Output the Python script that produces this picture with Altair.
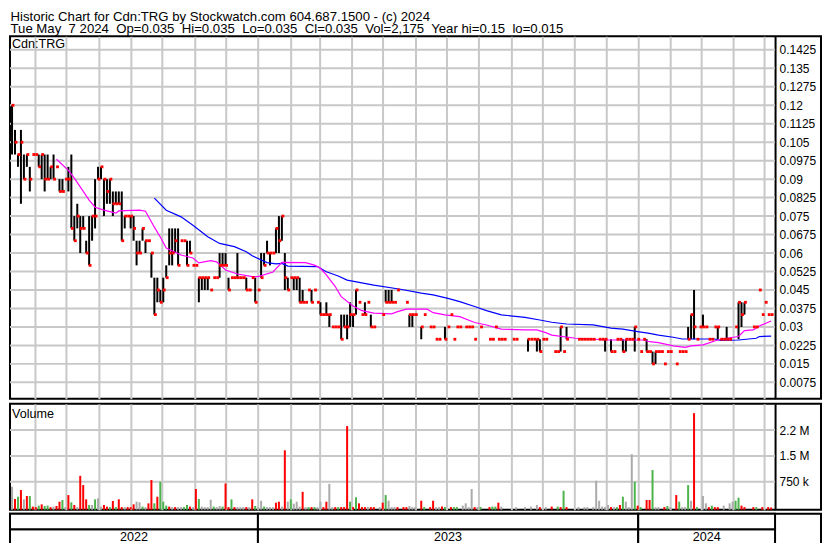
import altair as alt
import pandas as pd

# ---------------- data (prices in 0.005 ticks, 0 = no trade) ----------------
TICK = 0.005
first_bar = "2022-05-10T00:00:00"
last_bar = "2024-05-07T14:00:00"

close_t = [
    24, 21, 20, 21, 18, 20, 18, 20, 20, 19,
    20, 18, 18, 19, 18, 19, 17, 17, 18, 18,
    14, 13, 15, 14, 14, 12, 11, 15, 15, 18,
    19, 18, 17, 18, 16, 16, 16, 13, 15, 15,
    15, 14, 12, 12, 14, 13, 13, 12, 7, 9,
    8, 9, 10, 12, 12, 13, 11, 13, 13, 11,
    12, 11, 11, 10, 10, 10, 10, 9, 10, 10,
    11, 11, 11, 9, 10, 10, 10, 10, 10, 9,
    9, 10, 8, 9, 10, 11, 12, 12, 12, 14,
    13, 15, 10, 9, 10, 10, 10, 8, 8, 8,
    9, 8, 9, 8, 7, 7, 7, 7, 6, 6,
    6, 5, 6, 6, 7, 7, 9, 8, 7, 7,
    8, 6, 6, 0, 0, 7, 8, 8, 8, 8,
    9, 0, 0, 8, 7, 7, 7, 0, 6, 7,
    0, 6, 6, 5, 5, 0, 5, 6, 7, 5,
    6, 6, 0, 6, 6, 6, 5, 0, 6, 0,
    0, 5, 5, 6, 5, 5, 5, 0, 0, 5,
    5, 0, 0, 0, 5, 5, 5, 5, 4, 5,
    5, 0, 0, 4, 4, 6, 4, 5, 0, 0,
    0, 5, 5, 5, 5, 5, 5, 0, 5, 5,
    5, 0, 4, 4, 5, 5, 4, 5, 5, 5,
    6, 5, 4, 5, 4, 4, 3, 4, 4, 4,
    3, 4, 4, 0, 3, 4, 4, 4, 5, 7,
    6, 5, 6, 6, 6, 5, 5, 6, 6, 5,
    5, 5, 5, 0, 6, 8, 7, 8, 0, 0,
    6, 6, 9, 7, 8, 7, 7]

high_t = [
    24, 22, 20, 22, 20, 20, 19, 20, 20, 20,
    20, 20, 20, 19, 20, 19, 18, 18, 18, 19,
    20, 15, 16, 15, 15, 13, 15, 15, 18, 19,
    19, 18, 18, 18, 17, 17, 17, 17, 15, 15,
    15, 15, 13, 13, 14, 13, 13, 12, 10, 10,
    9, 10, 11, 14, 14, 14, 14, 13, 13, 13,
    13, 11, 11, 10, 10, 10, 10, 9, 10, 10,
    12, 12, 12, 10, 10, 10, 12, 10, 10, 10,
    9, 10, 10, 9, 12, 12, 13, 12, 12, 14,
    15, 15, 12, 10, 10, 10, 10, 10, 9, 8,
    9, 9, 9, 8, 8, 7, 8, 7, 6, 6,
    6, 7, 7, 7, 8, 7, 9, 8, 7, 8,
    8, 7, 6, 0, 0, 7, 9, 9, 9, 8,
    9, 0, 0, 8, 7, 7, 7, 0, 6, 7,
    0, 6, 6, 5, 5, 0, 6, 6, 7, 5,
    6, 6, 0, 6, 6, 6, 5, 0, 6, 0,
    0, 5, 5, 6, 5, 5, 5, 0, 0, 5,
    5, 0, 0, 0, 5, 5, 5, 5, 5, 5,
    5, 0, 0, 4, 4, 6, 4, 6, 0, 0,
    0, 5, 5, 5, 5, 5, 5, 0, 5, 5,
    5, 0, 5, 4, 5, 5, 5, 5, 5, 5,
    6, 5, 4, 5, 5, 4, 4, 4, 4, 4,
    3, 4, 4, 0, 3, 4, 4, 4, 6, 7,
    9, 5, 6, 7, 6, 5, 5, 6, 6, 5,
    5, 6, 5, 0, 6, 8, 8, 8, 0, 0,
    6, 6, 9, 7, 8, 7, 7]

low_t = [
    20, 20, 19, 16, 18, 19, 17, 20, 20, 19,
    18, 17, 18, 18, 18, 19, 17, 17, 18, 17,
    14, 13, 14, 12, 14, 12, 11, 13, 14, 18,
    18, 15, 16, 16, 15, 16, 16, 13, 14, 15,
    14, 13, 11, 12, 13, 12, 13, 10, 7, 8,
    8, 8, 10, 11, 11, 12, 11, 13, 13, 11,
    12, 11, 11, 8, 9, 9, 9, 9, 10, 10,
    10, 11, 11, 9, 10, 10, 10, 10, 10, 9,
    9, 10, 8, 9, 10, 11, 12, 11, 12, 12,
    12, 13, 9, 9, 10, 9, 9, 8, 8, 8,
    9, 8, 9, 8, 7, 7, 7, 6, 6, 6,
    6, 5, 6, 5, 6, 6, 7, 8, 7, 7,
    8, 6, 6, 0, 0, 7, 8, 8, 8, 8,
    9, 0, 0, 8, 6, 6, 7, 0, 5, 7,
    0, 6, 6, 5, 5, 0, 5, 6, 7, 5,
    6, 6, 0, 6, 6, 6, 5, 0, 6, 0,
    0, 5, 5, 6, 5, 5, 5, 0, 0, 5,
    5, 0, 0, 0, 4, 5, 5, 4, 4, 5,
    5, 0, 0, 4, 4, 4, 4, 5, 0, 0,
    0, 5, 5, 5, 5, 5, 5, 0, 5, 5,
    4, 0, 4, 4, 5, 5, 4, 4, 5, 5,
    4, 5, 4, 5, 4, 4, 3, 3, 4, 4,
    3, 4, 4, 0, 3, 4, 4, 4, 5, 5,
    5, 5, 6, 6, 6, 5, 5, 6, 5, 5,
    5, 5, 5, 0, 6, 5, 6, 7, 0, 0,
    6, 6, 9, 7, 8, 7, 7]

# volume in thousands of shares
vol_k = [
    605, 250, 317, 510, 240, 336, 336, 30, 15, 58,
    96, 48, 58, 15, 30, 48, 173, 221, 15, 365,
    154, 77, 15, 923, 654, 240, 77, 77, 240, 270,
    30, 77, 30, 15, 192, 15, 240, 15, 15, 15,
    15, 96, 173, 154, 30, 15, 125, 800, 125, 317,
    750, 173, 58, 30, 15, 15, 15, 15, 15, 77,
    30, 15, 540, 250, 30, 15, 15, 230, 30, 15,
    48, 30, 700, 15, 240, 15, 15, 15, 15, 15,
    15, 240, 48, 15, 200, 30, 15, 15, 15, 144,
    173, 30, 1663, 173, 240, 115, 173, 30, 460, 15,
    15, 15, 15, 15, 173, 15, 173, 690, 15, 15,
    15, 15, 15, 2365, 173, 15, 300, 125, 15, 15,
    15, 15, 15, 0, 15, 144, 365, 200, 15, 15,
    15, 0, 15, 15, 48, 15, 15, 0, 200, 15,
    0, 15, 200, 15, 15, 30, 15, 0, 15, 15,
    15, 0, 58, 125, 15, 540, 15, 15, 15, 0,
    0, 15, 30, 30, 144, 30, 0, 0, 0, 0,
    15, 0, 0, 15, 0, 30, 0, 77, 15, 0,
    15, 0, 30, 0, 30, 15, 490, 15, 0, 0,
    0, 15, 0, 15, 15, 0, 15, 780, 200, 30,
    15, 77, 15, 15, 15, 77, 317, 173, 15, 1550,
    750, 58, 15, 0, 221, 221, 1090, 15, 15, 0,
    15, 48, 15, 0, 365, 173, 15, 15, 654, 200,
    2740, 15, 0, 336, 125, 15, 58, 15, 15, 0,
    58, 0, 125, 173, 200, 288, 58, 15, 0, 0,
    15, 15, 0, 15, 0, 15, 5]

# r = down day, g = up day, k = unchanged, . = no volume
vol_dir = ("krgrkrgrrg" "rggrkrrgkr" "grkrrrgkgk" "krrgrgrrkr" "rrkkgkrrgr"
           "gggrkrkkgg" "rkrgkkkkgk" "kgrrgrkkkr" "krgkkgkkkr" "rkrkgkkkrk"
           "grgkkrrkkr" "grrrgrgrrr" "krr.krgkkk" "r.rrkkk.rg" ".rrkkrg.rg"
           "g.kkkkrkg." ".rggrk...." "k..k.k.kr." "k.r.grgr.." ".k.kk.kkkk"
           "kkrkgrgkkk" "grg.rrgkk." "rgk.rgkkgk" "rg.kkrgrr." "k.kkggrr.."
           "rg.r.rr")

# moving averages (position in bar slots, value)
ma_fast_pos = [15, 19, 21, 26, 28, 31, 35, 36, 43, 45, 48, 50, 52, 57, 61, 63, 67, 69, 72, 76,
               81, 83, 88, 91, 99, 102, 104, 106, 109, 111, 115, 118, 122, 128, 130, 133, 140, 142, 146, 151,
               156, 160, 165, 173, 177, 180, 182, 190, 201, 208, 213, 215, 218, 223, 227, 229, 233, 238, 241, 245,
               247, 250, 252, 256]
ma_fast_val = [0.0981, 0.0936, 0.0904, 0.0815, 0.0786, 0.0774, 0.0762, 0.0771, 0.0774, 0.077,
               0.0705, 0.0665, 0.062, 0.0592, 0.058, 0.056, 0.0569, 0.0564, 0.0531, 0.0515,
               0.0504, 0.0504, 0.0523, 0.0562, 0.0561, 0.0551, 0.0538, 0.0511, 0.0464, 0.0423,
               0.0385, 0.0366, 0.0356, 0.0353, 0.0362, 0.0372, 0.0372, 0.0358, 0.0349, 0.0342,
               0.0318, 0.0308, 0.0291, 0.0288, 0.0288, 0.0277, 0.0267, 0.0254, 0.0247, 0.0247,
               0.0247, 0.024, 0.0236, 0.0223, 0.0217, 0.0223, 0.0227, 0.0247, 0.0254, 0.0261,
               0.0285, 0.0288, 0.0304, 0.0324]
ma_slow_pos = [48, 52, 57, 61, 66, 70, 75, 79, 81, 86, 89, 91, 93, 103, 106, 110, 113, 122, 131, 138,
               142, 147, 151, 156, 160, 165, 173, 178, 182, 187, 196, 202, 206, 211, 215, 218, 223, 226, 237, 239,
               245, 251, 252, 256]
ma_slow_val = [0.0823, 0.0774, 0.0747, 0.0713, 0.0666, 0.0639, 0.0626, 0.0605, 0.0589, 0.0561,
               0.0556, 0.0558, 0.0547, 0.0545, 0.0524, 0.0507, 0.049, 0.047, 0.0453, 0.0437,
               0.043, 0.0416, 0.0403, 0.0383, 0.0366, 0.0349, 0.0339, 0.0328, 0.0319, 0.0312,
               0.0308, 0.0295, 0.0291, 0.0281, 0.0274, 0.0267, 0.0258, 0.0251, 0.0251, 0.0245,
               0.0247, 0.0254, 0.0261, 0.0263]

price_ticks = [0.0075, 0.015, 0.0225, 0.03, 0.0375, 0.045, 0.0525, 0.06, 0.0675, 0.075,
               0.0825, 0.09, 0.0975, 0.105, 0.1125, 0.12, 0.1275, 0.135, 0.1425]
vol_ticks = [750000, 1500000, 2250000]
vol_tick_labels = ["750 k", "1.5 M", "2.2 M"]

years = ["2022", "2023", "2024"]
year_start = ["2022-05-08T01:00:00", "2023-01-01T00:00:00", "2024-01-01T00:00:00"]
year_end = ["2023-01-01T00:00:00", "2024-01-01T00:00:00", "2024-05-11T08:00:00"]

title_lines = [
    "Historic Chart for Cdn:TRG by Stockwatch.com 604.687.1500 - (c) 2024",
    "Tue May\u00a0 7 2024\u00a0 Op=0.035\u00a0 Hi=0.035\u00a0 Lo=0.035\u00a0 Cl=0.035\u00a0 "
    "Vol=2,175\u00a0 Year hi=0.15\u00a0 lo=0.015",
]

# ---------------- layout constants ----------------
DOM_START = "2022-05-08T01:00:00"
DOM_END = "2024-06-24T10:24:00"
PANEL_END = year_end[-1]
W = 812
H_HEAD = 26
H_PRICE = 363
H_VOL = 106
H_BAND = 31
AX_OFF = -46
HEAD_FS = 13.2
VOL_FLOOR = -60000     # volume panel floor: bars are drawn from the panel's bottom edge
VOL_TOP = 3010000
FONT = "Liberation Sans"
GRID = "#c8c8c8"
RED = "#ff0000"
GREEN = "#4db34d"
GREYV = "#aaaaaa"

# ---------------- frames ----------------
n = len(close_t)
t0 = pd.Timestamp(first_bar)
t1 = pd.Timestamp(last_bar)
step = (t1 - t0) / (n - 1)


def at(pos):
    return (t0 + step * pos).strftime("%Y-%m-%dT%H:%M:%S")


bars = pd.DataFrame({
    "date": [at(i) for i in range(n)],
    "close": [c * TICK for c in close_t],
    "high": [h * TICK for h in high_t],
    "low": [lo * TICK for lo in low_t],
    "vol": [v * 1000 for v in vol_k],
    "dir": list(vol_dir),
})
closes = bars[bars["close"] > 0]
ranges = bars[bars["high"] > bars["low"]]
vols = bars[(bars["vol"] > 0) & (bars["dir"] != ".")]

ma_fast = pd.DataFrame({"date": [at(p) for p in ma_fast_pos], "v": ma_fast_val})
ma_slow = pd.DataFrame({"date": [at(p) for p in ma_slow_pos], "v": ma_slow_val})

pgrid = pd.DataFrame({"v": price_ticks, "x0": DOM_START, "x1": PANEL_END})
vgrid = pd.DataFrame({"v": vol_ticks, "x0": DOM_START, "x1": PANEL_END})


def dt(s):
    t = pd.Timestamp(s)
    return alt.DateTime(year=t.year, month=t.month, date=t.day, hours=t.hour, minutes=t.minute)


month_ticks = [dt(d) for d in pd.date_range("2022-06-01", "2024-05-01", freq="MS")]
x_scale = alt.Scale(domain=[dt(DOM_START), dt(DOM_END)], nice=False, padding=0)
x_axis = alt.Axis(values=month_ticks, grid=True, gridColor=GRID, gridWidth=2, labels=False,
                  ticks=False, domain=False, title=None)


def X(field):
    return alt.X(field, type="temporal", scale=x_scale, axis=x_axis, title=None)


price_scale = alt.Scale(domain=[0.0008, 0.148], nice=False, zero=False)
axis_common = dict(orient="right", offset=AX_OFF, grid=False, ticks=False, domain=True,
                   domainColor="black", domainWidth=2, labelPadding=4, labelFontSize=12,
                   labelColor="black", labelFont=FONT, title=None, labelFlush=False,
                   labelOverlap=False, labelAlign="left", labelBaseline="middle")
price_axis = alt.Axis(values=price_ticks, format=".4~f", **axis_common)


def YP(field):
    return alt.Y(field, type="quantitative", scale=price_scale, axis=price_axis, title=None)


vol_scale = alt.Scale(domain=[VOL_FLOOR, VOL_TOP], nice=False, zero=False)
label_expr = " : ".join(
    f"datum.value == {v} ? '{lab}'" for v, lab in zip(vol_ticks[:-1], vol_tick_labels[:-1])
) + f" : '{vol_tick_labels[-1]}'"
vol_axis = alt.Axis(values=vol_ticks, labelExpr=label_expr, **axis_common)


def YV(field):
    return alt.Y(field, type="quantitative", scale=vol_scale, axis=vol_axis, title=None)


# ---------------- header ----------------
def head_line(txt, ypos):
    return alt.Chart(pd.DataFrame({"t": [txt]})).mark_text(
        align="left", baseline="alphabetic", fontSize=HEAD_FS, font=FONT, color="black"
    ).encode(text="t:N", x=alt.value(0.5), y=alt.value(ypos))


header = alt.layer(
    head_line(title_lines[0], 12.2),
    head_line(title_lines[1], 24.4),
).properties(width=W, height=H_HEAD, view=alt.ViewBackground(stroke=None))

# ---------------- price panel ----------------
p_grid = alt.Chart(pgrid).mark_rule(color=GRID, strokeWidth=2).encode(x=X("x0"), x2="x1", y=YP("v"))
p_rng = alt.Chart(ranges).mark_rule(color="black", strokeWidth=2).encode(x=X("date"), y=YP("low"), y2="high")
p_slow = alt.Chart(ma_slow).mark_line(color="#0000ff", strokeWidth=1.2).encode(x=X("date"), y=YP("v"))
p_fast = alt.Chart(ma_fast).mark_line(color="#ff00ff", strokeWidth=1.2).encode(x=X("date"), y=YP("v"))
p_close = alt.Chart(closes).mark_square(color=RED, size=8, opacity=1, xOffset=1).encode(x=X("date"), y=YP("close"))
p_lab = alt.Chart(pd.DataFrame({"t": ["Cdn:TRG"]})).mark_text(
    align="left", baseline="middle", fontSize=12.6, font=FONT, color="black"
).encode(text="t:N", x=alt.value(2), y=alt.value(8))

price = alt.layer(p_grid, p_rng, p_slow, p_fast, p_close, p_lab).properties(width=W, height=H_PRICE)

# ---------------- volume panel ----------------
v_grid = alt.Chart(vgrid).mark_rule(color=GRID, strokeWidth=2).encode(x=X("x0"), x2="x1", y=YV("v"))
v_bars = alt.Chart(vols).mark_bar(size=2).encode(
    x=X("date"), y=YV("vol"), y2=alt.datum(VOL_FLOOR),
    color=alt.Color("dir:N", scale=alt.Scale(domain=["r", "g", "k"], range=[RED, GREEN, GREYV]), legend=None),
)
v_lab = alt.Chart(pd.DataFrame({"t": ["Volume"]})).mark_text(
    align="left", baseline="middle", fontSize=12.6, font=FONT, color="black"
).encode(text="t:N", x=alt.value(2), y=alt.value(10.5))
volume = alt.layer(v_grid, v_bars, v_lab).properties(width=W, height=H_VOL)

# ---------------- year band ----------------
band_rows = []
for y, s, e in zip(years, year_start, year_end):
    for r in (0, 1):
        band_rows.append({"year": y, "start": s, "end": e, "r0": r, "r1": r + 1})
band_df = pd.DataFrame(band_rows)
lab_df = pd.DataFrame({
    "year": years,
    "mid": [(pd.Timestamp(s) + (pd.Timestamp(e) - pd.Timestamp(s)) / 2).strftime("%Y-%m-%dT%H:%M:%S")
            for s, e in zip(year_start, year_end)],
    "ym": [0.5] * len(years),
})


def bx(f):
    return alt.X(f, type="temporal", scale=x_scale, axis=None, title=None)


by_scale = alt.Scale(domain=[0, 2], nice=False, zero=False)
b_rect = alt.Chart(band_df).mark_rect(fill="white", stroke="black", strokeWidth=2).encode(
    x=bx("start"), x2="end", y=alt.Y("r0:Q", scale=by_scale, axis=None), y2="r1")
b_text = alt.Chart(lab_df).mark_text(fontSize=12.6, font=FONT, color="black", baseline="middle").encode(
    x=bx("mid"), y=alt.Y("ym:Q", scale=by_scale, axis=None), text="year:N")
band = alt.layer(b_rect, b_text).properties(width=W, height=H_BAND)

chart = alt.vconcat(
    header,
    alt.vconcat(alt.vconcat(price, volume, spacing=3), band, spacing=1),
    spacing=0,
).properties(
    padding={"left": 0, "top": 0, "right": 0, "bottom": 0},
).configure(background="white", font=FONT).configure_view(stroke="black", strokeWidth=2)

chart.save("out.html", embed_options={"renderer": "svg", "actions": False})
